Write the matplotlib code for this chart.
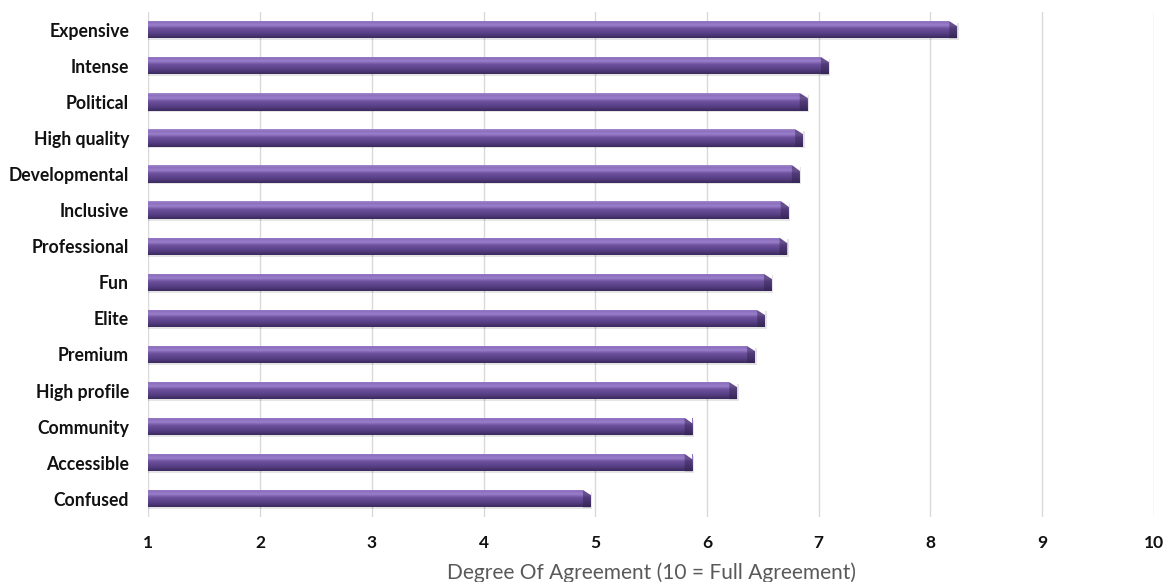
import numpy as np
import matplotlib.pyplot as plt
from matplotlib.colors import LinearSegmentedColormap

# attributes, top to bottom as shown
labels = ["Expensive", "Intense", "Political", "High quality", "Developmental",
          "Inclusive", "Professional", "Fun", "Elite", "Premium",
          "High profile", "Community", "Accessible", "Confused"]
scores = [8.24, 7.09, 6.90, 6.86, 6.83, 6.73, 6.72, 6.58, 6.52, 6.43,
          6.27, 5.87, 5.87, 4.96]
xticks = [1, 2, 3, 4, 5, 6, 7, 8, 9, 10]

plt.rcParams['font.family'] = ['Lato', 'DejaVu Sans']

fig = plt.figure(figsize=(11.69, 5.82), dpi=100)
ax = fig.add_axes([0.127, 0.112, 0.86, 0.868])

y = np.arange(len(labels))
h = 0.48

# cylinder shading, top (row 0) to bottom
shade = LinearSegmentedColormap.from_list("cyl", [
    (0.0, "#a890d0"), (0.10, "#8a6cbc"), (0.28, "#9a80cc"),
    (0.45, "#6f529f"), (0.75, "#563f84"), (1.0, "#3b2a5e")])
grad = np.linspace(0, 1, 64).reshape(-1, 1)

bars = ax.barh(y, [s - 1 for s in scores], left=1, height=h,
               color="#6a4f9a", edgecolor="none", zorder=2)
for b, s in zip(bars, scores):
    y0 = b.get_y()
    # soft shadow under the bar
    ax.barh(y0 + h / 2 + 0.05, s - 1 + 0.015, left=1, height=h,
            color="#000000", alpha=0.10, edgecolor="none", zorder=1.5)
    im = ax.imshow(grad, cmap=shade, aspect="auto",
                   extent=(1, s, y0 + h, y0), zorder=3, interpolation="bicubic")
    im.set_clip_path(b)
    # darker bevelled end cap
    ax.fill([s - 0.07, s, s, s - 0.07], [y0, y0 + 0.3 * h, y0 + h, y0 + h],
            color="#2e2049", alpha=0.45, lw=0, zorder=4)
    ax.fill([s - 0.07, s, s], [y0, y0, y0 + 0.3 * h],
            color="white", lw=0, zorder=4)

ax.set_xlim(1, 10)
ax.set_ylim(len(labels) - 0.5, -0.5)
ax.set_xticks(xticks)
ax.set_yticks(y)
ax.set_yticklabels(labels, fontsize=12.7, fontweight="bold", color="#111111")
ax.set_xticklabels([str(t) for t in xticks], fontsize=12.5, fontweight="bold",
                   color="#111111")
ax.tick_params(axis="both", length=0)
ax.tick_params(axis="x", pad=13)
ax.tick_params(axis="y", pad=14)

ax.grid(axis="x", color="#d9d9d9", lw=1, zorder=0)
ax.set_axisbelow(True)
for sp in ax.spines.values():
    sp.set_visible(False)

ax.set_xlabel("Degree Of Agreement (10 = Full Agreement)", fontsize=15,
              color="#595959", labelpad=8)

fig.savefig("out.png", dpi=100)
